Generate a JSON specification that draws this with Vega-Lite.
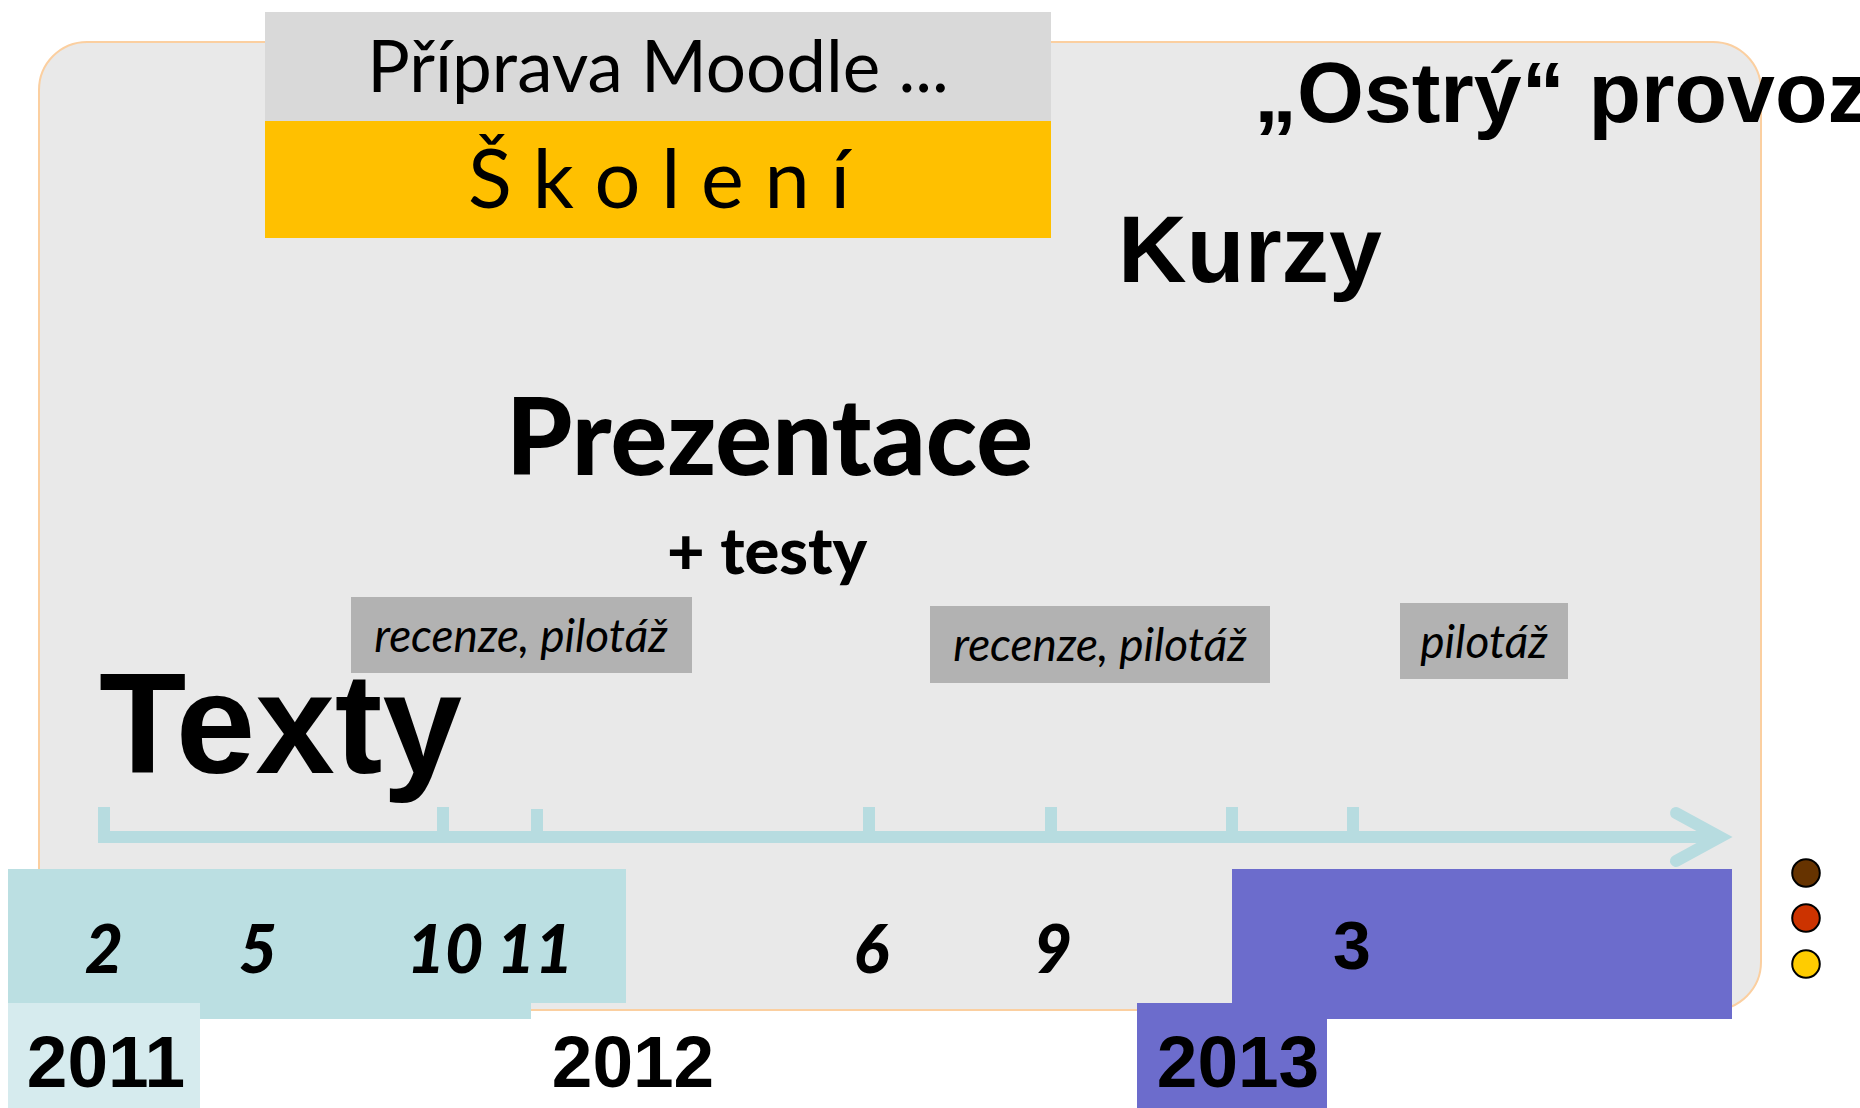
{
  "$schema": "https://vega.github.io/schema/vega-lite/v6.json",
  "width": 1860,
  "height": 1108,
  "autosize": {"type": "none"},
  "padding": 0,
  "background": "#FFFFFF",
  "config": {"view": {"stroke": null}},
  "datasets": {
    "stage": [{"part": "stage", "x": 39, "x2": 1761, "y": 42, "y2": 1010}],
    "boxes": [
      {"part": "Příprava Moodle", "tone": "moodle", "x": 265, "x2": 1051, "y": 12, "y2": 121},
      {"part": "Školení", "tone": "skoleni", "x": 265, "x2": 1051, "y": 121, "y2": 238},
      {"part": "recenze 1", "tone": "review", "x": 351, "x2": 692, "y": 597, "y2": 673},
      {"part": "recenze 2", "tone": "review", "x": 930, "x2": 1270, "y": 606, "y2": 683},
      {"part": "pilotáž", "tone": "review", "x": 1400, "x2": 1568, "y": 603, "y2": 679},
      {"part": "období 1", "tone": "period1", "x": 8, "x2": 626, "y": 869, "y2": 1003},
      {"part": "období 1b", "tone": "period1", "x": 8, "x2": 531, "y": 1002, "y2": 1019},
      {"part": "2011", "tone": "year2011", "x": 8, "x2": 200, "y": 1003, "y2": 1108},
      {"part": "období 2", "tone": "period2", "x": 1232, "x2": 1732, "y": 869, "y2": 1019},
      {"part": "2013", "tone": "period2", "x": 1137, "x2": 1327, "y": 1003, "y2": 1108}
    ],
    "axisline": [{"x": 98, "x2": 1716, "y": 837}],
    "ticks": [
      {"x": 104, "y": 807, "y2": 837},
      {"x": 443, "y": 807, "y2": 837},
      {"x": 537, "y": 809, "y2": 837},
      {"x": 869, "y": 807, "y2": 837},
      {"x": 1051, "y": 807, "y2": 837},
      {"x": 1232, "y": 807, "y2": 837},
      {"x": 1353, "y": 807, "y2": 837}
    ],
    "arrow": [
      {"o": 1, "x": 1676, "y": 813},
      {"o": 2, "x": 1720, "y": 837},
      {"o": 3, "x": 1676, "y": 861}
    ],
    "dots": [
      {"status": "a", "x": 1806, "y": 873},
      {"status": "b", "x": 1806, "y": 918},
      {"status": "c", "x": 1806, "y": 964}
    ],
    "tMoodle": [{"t": "Příprava Moodle ...", "x": 658, "y": 92}],
    "tSkoleni": [{"t": "Š k o l e n í", "x": 659, "y": 208}],
    "tOstry": [{"t": "„Ostrý“ provoz", "x": 1254, "y": 122}],
    "tKurzy": [{"t": "Kurzy", "x": 1118, "y": 282}],
    "tPrez": [{"t": "Prezentace", "x": 506, "y": 475}],
    "tTesty": [{"t": "+ testy", "x": 667, "y": 574}],
    "tReview": [
      {"t": "recenze, pilotáž", "x": 521, "y": 652},
      {"t": "recenze, pilotáž", "x": 1100, "y": 661},
      {"t": "pilotáž", "x": 1484, "y": 658}
    ],
    "tTexty": [{"t": "Texty", "x": 99, "y": 773}],
    "tMonths": [
      {"t": "2", "x": 104},
      {"t": "5", "x": 258},
      {"t": "10", "x": 445},
      {"t": "11", "x": 535},
      {"t": "6", "x": 871},
      {"t": "9", "x": 1053}
    ],
    "tMarch": [{"t": "3", "x": 1352}],
    "tYears": [
      {"t": "2011", "x": 106},
      {"t": "2012", "x": 633},
      {"t": "2013", "x": 1238}
    ]
  },
  "layer": [
    {
      "data": {"name": "stage"},
      "mark": {"type": "rect", "fill": "#E9E9E9", "stroke": "#FBCFA0", "strokeWidth": 2, "cornerRadius": 48},
      "encoding": {
        "x": {"field": "x", "type": "quantitative", "scale": {"domain": [0, 1860], "nice": false, "zero": false}, "axis": null},
        "x2": {"field": "x2"},
        "y": {"field": "y", "type": "quantitative", "scale": {"domain": [0, 1108], "nice": false, "zero": false, "reverse": true}, "axis": null},
        "y2": {"field": "y2"}
      }
    },
    {
      "data": {"name": "boxes"},
      "mark": {"type": "rect", "strokeWidth": 0},
      "encoding": {
        "x": {"field": "x", "type": "quantitative", "scale": {"domain": [0, 1860], "nice": false, "zero": false}, "axis": null},
        "x2": {"field": "x2"},
        "y": {"field": "y", "type": "quantitative", "scale": {"domain": [0, 1108], "nice": false, "zero": false, "reverse": true}, "axis": null},
        "y2": {"field": "y2"},
        "color": {
          "field": "tone", "type": "nominal", "legend": null,
          "scale": {"domain": ["moodle", "skoleni", "review", "period1", "year2011", "period2"],
                    "range": ["#D9D9D9", "#FFC000", "#B2B2B2", "#BBDFE2", "#D6EBEE", "#6C6CCC"]}
        }
      }
    },
    {
      "data": {"name": "axisline"},
      "mark": {"type": "rule", "stroke": "#B7DCE0", "strokeWidth": 12},
      "encoding": {
        "x": {"field": "x", "type": "quantitative", "axis": null},
        "x2": {"field": "x2"},
        "y": {"field": "y", "type": "quantitative", "axis": null}
      }
    },
    {
      "data": {"name": "ticks"},
      "mark": {"type": "rule", "stroke": "#B7DCE0", "strokeWidth": 12},
      "encoding": {
        "x": {"field": "x", "type": "quantitative", "axis": null},
        "y": {"field": "y", "type": "quantitative", "axis": null},
        "y2": {"field": "y2"}
      }
    },
    {
      "data": {"name": "arrow"},
      "mark": {"type": "line", "stroke": "#B7DCE0", "strokeWidth": 12, "strokeCap": "round", "strokeJoin": "miter"},
      "encoding": {
        "x": {"field": "x", "type": "quantitative", "axis": null},
        "y": {"field": "y", "type": "quantitative", "axis": null},
        "order": {"field": "o", "type": "quantitative"}
      }
    },
    {
      "data": {"name": "dots"},
      "mark": {"type": "point", "shape": "circle", "filled": true, "size": 760, "stroke": "#000000", "strokeWidth": 2, "opacity": 1},
      "encoding": {
        "x": {"field": "x", "type": "quantitative", "axis": null},
        "y": {"field": "y", "type": "quantitative", "axis": null},
        "fill": {"field": "status", "type": "nominal", "legend": null,
                 "scale": {"domain": ["a", "b", "c"], "range": ["#663300", "#CC3300", "#FFCC00"]}}
      }
    },
    {
      "data": {"name": "tMoodle"},
      "mark": {"type": "text", "font": "Lato", "fontSize": 71, "align": "center", "baseline": "alphabetic", "color": "#000000"},
      "encoding": {
        "x": {"field": "x", "type": "quantitative", "axis": null},
        "y": {"field": "y", "type": "quantitative", "axis": null},
        "text": {"field": "t"}
      }
    },
    {
      "data": {"name": "tSkoleni"},
      "mark": {"type": "text", "font": "Lato", "fontSize": 81, "align": "center", "baseline": "alphabetic", "color": "#000000"},
      "encoding": {
        "x": {"field": "x", "type": "quantitative", "axis": null},
        "y": {"field": "y", "type": "quantitative", "axis": null},
        "text": {"field": "t"}
      }
    },
    {
      "data": {"name": "tOstry"},
      "mark": {"type": "text", "font": "Liberation Sans", "fontWeight": "bold", "fontSize": 86, "align": "left", "baseline": "alphabetic", "color": "#000000"},
      "encoding": {
        "x": {"field": "x", "type": "quantitative", "axis": null},
        "y": {"field": "y", "type": "quantitative", "axis": null},
        "text": {"field": "t"}
      }
    },
    {
      "data": {"name": "tKurzy"},
      "mark": {"type": "text", "font": "Liberation Sans", "fontWeight": "bold", "fontSize": 95, "align": "left", "baseline": "alphabetic", "color": "#000000"},
      "encoding": {
        "x": {"field": "x", "type": "quantitative", "axis": null},
        "y": {"field": "y", "type": "quantitative", "axis": null},
        "text": {"field": "t"}
      }
    },
    {
      "data": {"name": "tPrez"},
      "mark": {"type": "text", "font": "Lato", "fontWeight": 900, "fontSize": 106, "align": "left", "baseline": "alphabetic", "color": "#000000"},
      "encoding": {
        "x": {"field": "x", "type": "quantitative", "axis": null},
        "y": {"field": "y", "type": "quantitative", "axis": null},
        "text": {"field": "t"}
      }
    },
    {
      "data": {"name": "tTesty"},
      "mark": {"type": "text", "font": "Lato", "fontWeight": 900, "fontSize": 65, "align": "left", "baseline": "alphabetic", "color": "#000000"},
      "encoding": {
        "x": {"field": "x", "type": "quantitative", "axis": null},
        "y": {"field": "y", "type": "quantitative", "axis": null},
        "text": {"field": "t"}
      }
    },
    {
      "data": {"name": "tReview"},
      "mark": {"type": "text", "font": "Lato", "fontStyle": "italic", "fontSize": 46, "align": "center", "baseline": "alphabetic", "color": "#000000"},
      "encoding": {
        "x": {"field": "x", "type": "quantitative", "axis": null},
        "y": {"field": "y", "type": "quantitative", "axis": null},
        "text": {"field": "t"}
      }
    },
    {
      "data": {"name": "tTexty"},
      "mark": {"type": "text", "font": "Liberation Sans", "fontWeight": "bold", "fontSize": 143, "align": "left", "baseline": "alphabetic", "color": "#000000"},
      "encoding": {
        "x": {"field": "x", "type": "quantitative", "axis": null},
        "y": {"field": "y", "type": "quantitative", "axis": null},
        "text": {"field": "t"}
      }
    },
    {
      "data": {"name": "tMonths"},
      "mark": {"type": "text", "font": "Lato", "fontWeight": 900, "fontStyle": "italic", "fontSize": 66, "align": "center", "baseline": "alphabetic", "color": "#000000"},
      "encoding": {
        "x": {"field": "x", "type": "quantitative", "axis": null},
        "y": {"datum": 973, "type": "quantitative", "axis": null},
        "text": {"field": "t"}
      }
    },
    {
      "data": {"name": "tMarch"},
      "mark": {"type": "text", "font": "Liberation Sans", "fontWeight": "bold", "fontSize": 68, "align": "center", "baseline": "alphabetic", "color": "#000000"},
      "encoding": {
        "x": {"field": "x", "type": "quantitative", "axis": null},
        "y": {"datum": 969, "type": "quantitative", "axis": null},
        "text": {"field": "t"}
      }
    },
    {
      "data": {"name": "tYears"},
      "mark": {"type": "text", "font": "Liberation Sans", "fontWeight": "bold", "fontSize": 73, "align": "center", "baseline": "alphabetic", "color": "#000000"},
      "encoding": {
        "x": {"field": "x", "type": "quantitative", "axis": null},
        "y": {"datum": 1087, "type": "quantitative", "axis": null},
        "text": {"field": "t"}
      }
    }
  ]
}
